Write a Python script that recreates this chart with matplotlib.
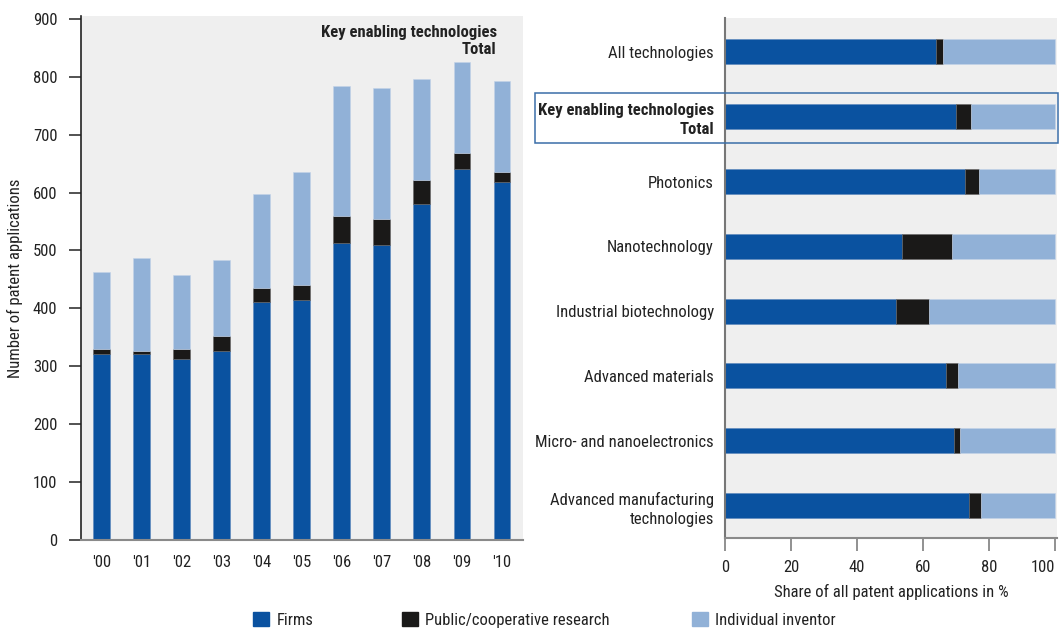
import matplotlib
matplotlib.use('Agg')
import matplotlib.pyplot as plt
from matplotlib import font_manager
from matplotlib.patches import Patch, Rectangle
import numpy as np

# look for a narrow face; fall back to condensed DejaVu
font_family = 'DejaVu Sans'
for cand in ['Liberation Sans Narrow', 'Roboto Condensed', 'Open Sans Condensed']:
    try:
        font_manager.findfont(font_manager.FontProperties(family=cand), fallback_to_default=False)
        font_family = cand
        break
    except ValueError:
        pass
plt.rcParams['font.family'] = [font_family, 'DejaVu Sans']
plt.rcParams['font.stretch'] = 'condensed'
plt.rcParams['font.size'] = 12

years = ["'00", "'01", "'02", "'03", "'04", "'05", "'06", "'07", "'08", "'09", "'10"]
firms_n = [322, 322, 313, 326, 411, 415, 513, 509, 581, 640, 619]
public_n = [8, 4, 17, 26, 25, 26, 46, 46, 41, 29, 17]
indiv_n = [132, 161, 127, 131, 162, 195, 225, 225, 175, 157, 157]

techs = ['All technologies', 'Key enabling technologies\nTotal', 'Photonics',
         'Nanotechnology', 'Industrial biotechnology', 'Advanced materials',
         'Micro- and nanoelectronics', 'Advanced manufacturing\ntechnologies']
firms_p = [63.8, 70.1, 72.6, 53.5, 51.7, 66.9, 69.5, 73.9]
public_p = [2.4, 4.4, 4.4, 15.3, 10.0, 3.7, 1.7, 3.8]
indiv_p = [33.8, 25.5, 23.0, 31.2, 38.3, 29.4, 28.8, 22.3]

c_firms = '#0a52a0'
c_public = '#1a1918'
c_indiv = '#91b1d7'
bg = '#efefef'
txt = '#222222'

fig = plt.figure(figsize=(10.62, 6.32), dpi=100)

# left panel: counts per year
ax1 = fig.add_axes([0.0763, 0.1456, 0.4159, 0.8291])
ax1.set_facecolor(bg)
x = np.arange(len(years))
w = 0.42
f = np.array(firms_n)
p = np.array(public_n)
ax1.bar(x, f, w, color=c_firms, edgecolor='#5b86bb', linewidth=0.4)
ax1.bar(x, p, w, bottom=f, color=c_public, edgecolor='#666666', linewidth=0.4)
ax1.bar(x, indiv_n, w, bottom=f + p, color=c_indiv, edgecolor='#c3d3e8', linewidth=0.4)
ax1.set_xlim(-0.52, 10.52)
ax1.set_ylim(0, 905)
ax1.set_yticks(range(0, 901, 100))
ax1.set_xticks(x)
ax1.set_xticklabels(years)
ax1.tick_params(axis='x', length=0, pad=11, colors=txt)
ax1.tick_params(axis='y', length=9, width=1.3, direction='out', pad=8, color='#444444', labelcolor=txt)
ax1.spines['top'].set_visible(False)
ax1.spines['right'].set_visible(False)
ax1.spines['left'].set_color('#222222')
ax1.spines['left'].set_linewidth(1.2)
ax1.spines['bottom'].set_color('#8a8a8a')
ax1.spines['bottom'].set_linewidth(1.5)
ax1.set_ylabel('Number of patent applications', color=txt, labelpad=7)
ax1.text(0.941, 0.983, 'Key enabling technologies\nTotal', transform=ax1.transAxes,
         ha='right', va='top', fontweight='bold', color=txt, linespacing=1.15)

# right panel: shares by technology
ax2 = fig.add_axes([0.6827, 0.1487, 0.3126, 0.8236])
ax2.set_facecolor(bg)
y = np.arange(len(techs))[::-1]
h = 0.385
fp = np.array(firms_p)
pp = np.array(public_p)
ax2.barh(y, fp, h, color=c_firms, edgecolor='#5b86bb', linewidth=0.4)
ax2.barh(y, pp, h, left=fp, color=c_public, edgecolor='#666666', linewidth=0.4)
ax2.barh(y, indiv_p, h, left=fp + pp, color=c_indiv, edgecolor='#c3d3e8', linewidth=0.4)
ax2.set_xlim(0, 100.6)
ax2.set_ylim(-0.5, 7.53)
ax2.set_yticks(y)
ax2.set_yticklabels(techs, linespacing=1.35)
ax2.get_yticklabels()[1].set_fontweight('bold')
ax2.set_xticks(range(0, 101, 20))
ax2.get_xticklabels()[-1].set_horizontalalignment('right')
ax2.tick_params(axis='y', length=0, pad=8, colors=txt)
ax2.tick_params(axis='x', length=9, width=1.3, direction='out', pad=7, color='#888888', labelcolor=txt)
ax2.spines['top'].set_visible(False)
ax2.spines['right'].set_visible(False)
ax2.spines['left'].set_color('#777777')
ax2.spines['left'].set_linewidth(1.5)
ax2.spines['bottom'].set_color('#8a8a8a')
ax2.spines['bottom'].set_linewidth(1.5)
ax2.set_xlabel('Share of all patent applications in %', color=txt, labelpad=6)

# frame around the highlighted row
fig.patches.append(Rectangle((0.5038, 0.7742), 0.4922, 0.0782, transform=fig.transFigure,
                             fill=False, edgecolor='#3a6ea8', linewidth=1.1))

# legend
labels = ['Firms', 'Public/cooperative research', 'Individual inventor']
cols = [c_firms, c_public, c_indiv]
xpos = [0.2382, 0.3785, 0.6516]
for lab, col, xp in zip(labels, cols, xpos):
    fig.legend(handles=[Patch(color=col, label=lab)], loc='center left',
               bbox_to_anchor=(xp, 0.019), frameon=False, handlelength=0.96,
               handleheight=0.96, handletextpad=0.45, borderaxespad=0,
               borderpad=0, labelcolor=txt)

fig.savefig('out.png', dpi=100)
